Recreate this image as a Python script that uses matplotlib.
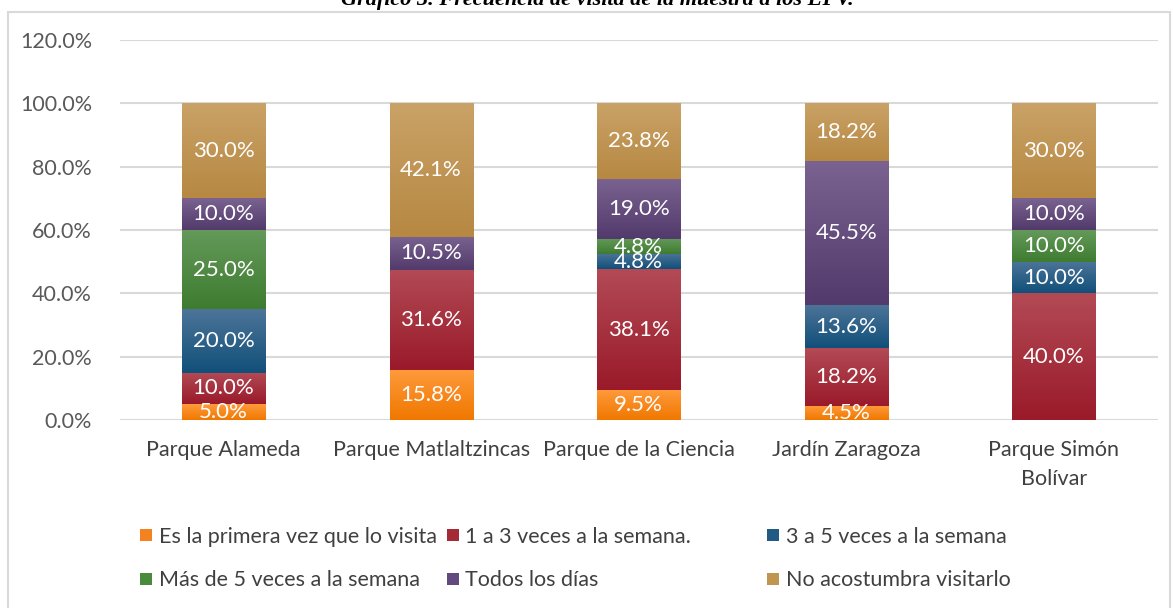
import numpy as np
import matplotlib.pyplot as plt
from matplotlib.colors import LinearSegmentedColormap
from matplotlib.patches import Rectangle
from matplotlib.lines import Line2D

# Data
parks = ["Parque Alameda", "Parque Matlaltzincas", "Parque de la Ciencia",
         "Jardín Zaragoza", "Parque Simón\nBolívar"]
series_names = ["Es la primera vez que lo visita", "1 a 3 veces a la semana.",
                "3 a 5 veces a la semana", "Más de 5 veces a la semana",
                "Todos los días", "No acostumbra visitarlo"]
primera_vez = [5.0, 15.8, 9.5, 4.5, 0.0]
una_a_tres = [10.0, 31.6, 38.1, 18.2, 40.0]
tres_a_cinco = [20.0, 0.0, 4.8, 13.6, 10.0]
mas_de_cinco = [25.0, 0.0, 4.8, 0.0, 10.0]
todos_los_dias = [10.0, 10.5, 19.0, 45.5, 10.0]
no_acostumbra = [30.0, 42.1, 23.8, 18.2, 30.0]
yticks = [0, 20, 40, 60, 80, 100, 120]

series = [primera_vez, una_a_tres, tres_a_cinco, mas_de_cinco, todos_los_dias, no_acostumbra]
# (top colour, bottom colour) for the vertical gradient in each segment
grads = [("#ff9a3c", "#f07800"), ("#b24a55", "#9a1a2a"), ("#4d7498", "#11507a"),
         ("#64995a", "#3e7c30"), ("#7a6390", "#523a6c"), ("#caa267", "#b68842")]
legend_colors = ["#f58220", "#a52a36", "#215a82", "#4a8a3c", "#634a7e", "#c09550"]

font = "Lato"
fig = plt.figure(figsize=(11.74, 6.08), dpi=100)
ax = fig.add_axes([0.102, 0.309, 0.884, 0.625])

x = np.arange(len(parks))
bottom = np.zeros(len(parks))
for vals, (ctop, cbot) in zip(series, grads):
    vals = np.array(vals)
    bars = ax.bar(x, vals, width=0.4, bottom=bottom, color=cbot, zorder=2, linewidth=0)
    cmap = LinearSegmentedColormap.from_list("g", [cbot, ctop])
    grad = np.linspace(0, 1, 64).reshape(-1, 1)
    for b, v in zip(bars, vals):
        if v <= 0:
            continue
        x0, y0 = b.get_x(), b.get_y()
        im = ax.imshow(grad, cmap=cmap, aspect="auto", origin="lower",
                       extent=(x0, x0 + b.get_width(), y0, y0 + b.get_height()),
                       zorder=2.5, interpolation="bilinear")
        im.set_clip_path(b)
        ax.text(b.get_x() + b.get_width() / 2, y0 + v / 2, f"{v:.1f}%",
                ha="center", va="center", color="white", fontsize=16,
                family=font, zorder=4)
    bottom += vals

ax.set_xlim(-0.5, len(parks) - 0.5)
ax.set_ylim(0, 120)
ax.set_yticks(yticks)
ax.set_yticklabels([f"{t:.1f}%" for t in yticks], family=font, fontsize=15.5, color="#595959")
ax.set_xticks(x)
ax.set_xticklabels(parks, family=font, fontsize=15.5, color="#404040", linespacing=1.6)
ax.tick_params(length=0)
ax.tick_params(axis="x", pad=14)
ax.tick_params(axis="y", pad=20)
ax.yaxis.grid(True, color="#d9d9d9", linewidth=1.5, zorder=0)
ax.set_axisbelow(True)
for s in ax.spines.values():
    s.set_visible(False)

# Legend: three columns, two rows
cols = [(0, 3), (1, 4), (2, 5)]
col_x = [0.108, 0.369, 0.642]
for (i, j), cx in zip(cols, col_x):
    handles = [Line2D([], [], marker="s", linestyle="", markersize=8,
                      markerfacecolor=legend_colors[k], markeredgewidth=0) for k in (i, j)]
    leg = fig.legend(handles, [series_names[i], series_names[j]], loc="upper left",
                     bbox_to_anchor=(cx, 0.148), frameon=False, handletextpad=0.1,
                     handlelength=1.0, labelspacing=1.1, borderaxespad=0,
                     prop={"family": font, "size": 15.5})
    for t in leg.get_texts():
        t.set_color("#404040")

# Outer chart border and the clipped figure caption above it
fig.patches.append(Rectangle((8 / 1174, -0.01), 1162 / 1174, 1 - 12 / 608 + 0.01,
                             transform=fig.transFigure, fill=False,
                             edgecolor="#d9d9d9", linewidth=1.5))
fig.text(597 / 1174, 1 - 5 / 608, "Gráfico 3. Frecuencia de visita de la muestra a los EPV.",
         ha="center", va="baseline", family="Liberation Serif", style="italic",
         weight="bold", fontsize=16)

fig.savefig("out.png", dpi=100)
